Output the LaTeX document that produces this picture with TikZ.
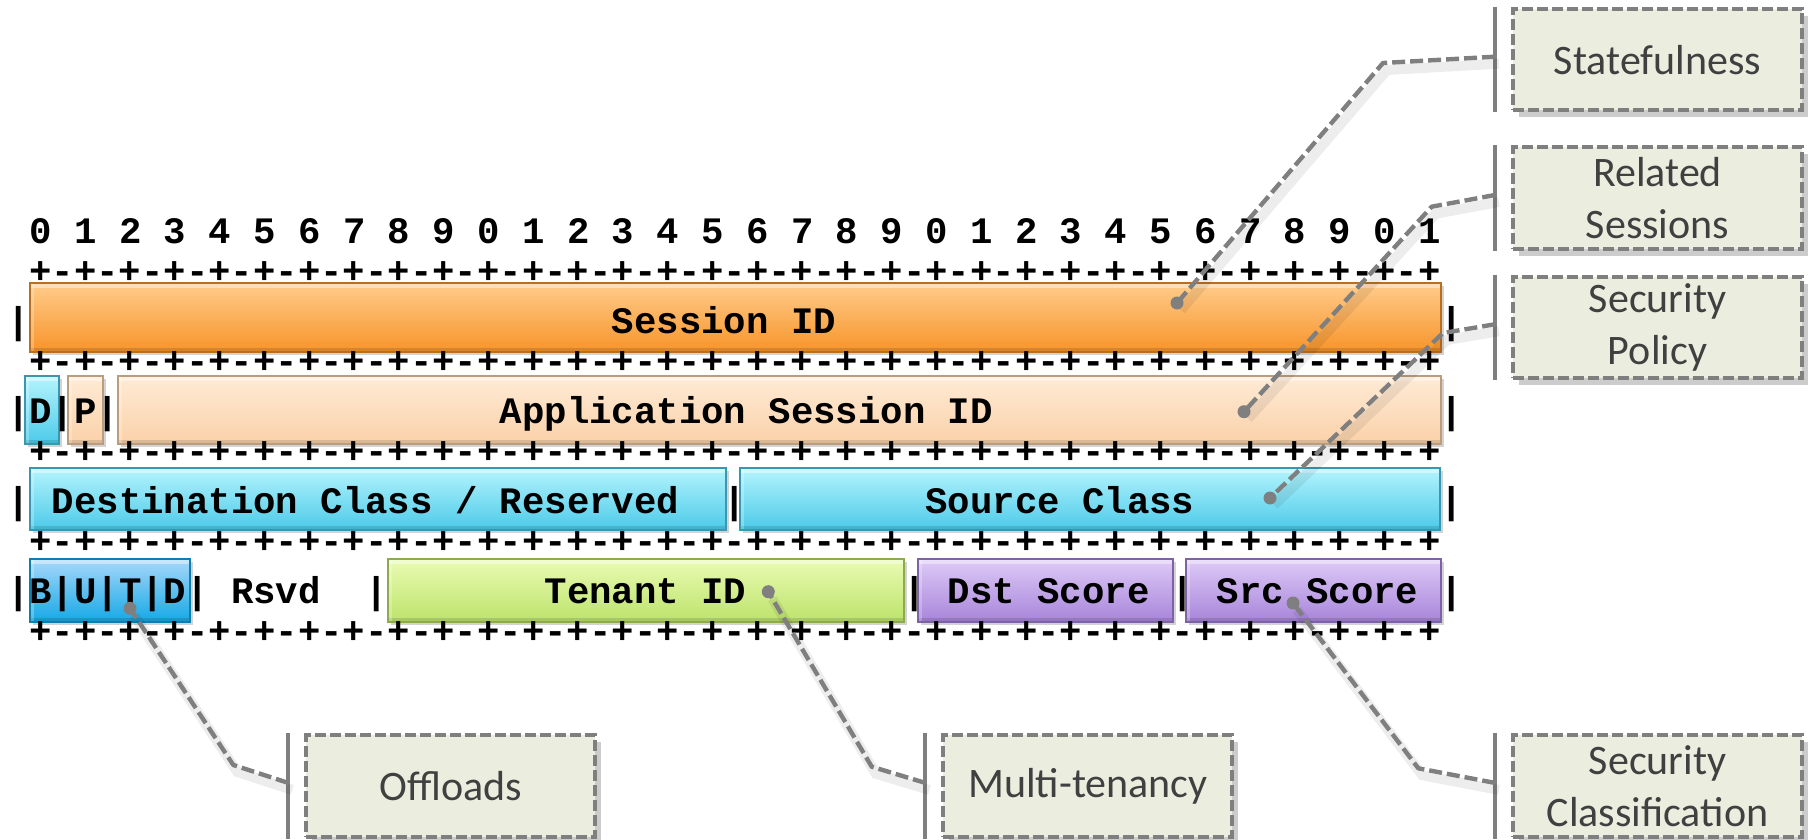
\documentclass[tikz,border=0pt]{standalone}
\usepackage{fontspec}
\usetikzlibrary{calc,shadows}

\newfontfamily\bitfont{Liberation Mono}
\newfontfamily\notefont{Carlito}

\definecolor{orgTop}{HTML}{FFCC8C}
\definecolor{orgBot}{HTML}{F7942A}
\definecolor{pchTop}{HTML}{FFEBD6}
\definecolor{pchBot}{HTML}{FAD1A8}
\definecolor{cyaTop}{HTML}{B4F4FD}
\definecolor{cyaBot}{HTML}{4CCAE9}
\definecolor{bluTop}{HTML}{A8D8FA}
\definecolor{bluBot}{HTML}{14A8E6}
\definecolor{limTop}{HTML}{EAFBB4}
\definecolor{limBot}{HTML}{BCE36A}
\definecolor{lavTop}{HTML}{DECBF7}
\definecolor{lavBot}{HTML}{A784DA}
\definecolor{callgray}{HTML}{7F7F7F}
\definecolor{notefill}{HTML}{EBEEDF}
\definecolor{notetext}{HTML}{404040}

\newcommand{\cx}[1]{18.3+22.4*(#1)}
\def\sepline{+-+-+-+-+-+-+-+-+-+-+-+-+-+-+-+-+-+-+-+-+-+-+-+-+-+-+-+-+-+-+-+}

\tikzset{
  bits/.style={font=\bitfont\bfseries\fontsize{18.67}{22}\selectfont, inner sep=0pt,
    text height=0.66em, text depth=0pt},
  field/.style 2 args={top color=#1, bottom color=#2, draw=#2!75!black, line width=0.6pt,
    drop shadow={opacity=0.35, shadow xshift=1.5pt, shadow yshift=-1.5pt},
    path picture={
      \fill[white, opacity=0.4] (path picture bounding box.north west) rectangle
        ([yshift=-2.5pt]path picture bounding box.north east);
      \fill[black, opacity=0.12] ([yshift=2pt]path picture bounding box.south west) rectangle
        (path picture bounding box.south east);
      \fill[white, opacity=0.25] (path picture bounding box.north west) rectangle
        ([xshift=2pt]path picture bounding box.south west);
    }},
  note/.style={draw=callgray, dash pattern=on 5.5pt off 2pt, line width=2pt, fill=notefill,
    text=notetext, font=\notefont\fontsize{21}{26}\selectfont, align=center,
    minimum width=144.5pt, minimum height=50.8pt, inner sep=0pt,
    drop shadow={opacity=0.4, shadow xshift=3pt, shadow yshift=-3.5pt}},
  lead/.style={draw=callgray, line width=2.2pt, dash pattern=on 6.5pt off 2.5pt, line join=round,
    preaction={draw=black, opacity=0.07, line width=5pt, solid,
      transform canvas={shift={(2pt,-3.5pt)}}}},
  dot/.style={circle, fill=callgray, inner sep=0pt, minimum size=6.5pt},
  post/.style={draw=callgray, line width=2pt}
}

\begin{document}
\begin{tikzpicture}[x=0.5pt, y=-0.5pt]
	\useasboundingbox (0,0) rectangle (1820,840);

	% coloured fields
	\path[field={orgTop}{orgBot}] (30,283) rectangle (1441,352);
	\path[field={cyaTop}{cyaBot}] (25,376) rectangle (59,444);
	\path[field={pchTop}{pchBot}] (68,376) rectangle (103,444);
	\path[field={pchTop}{pchBot}] (118,376) rectangle (1441,444);
	\path[field={cyaTop}{cyaBot}] (30,468) rectangle (726,530);
	\path[field={cyaTop}{cyaBot}] (740,468) rectangle (1440,530);
	\path[field={bluTop}{bluBot}] (30,559) rectangle (190,622);
	\path[field={limTop}{limBot}] (388,559) rectangle (904,622);
	\path[field={lavTop}{lavBot}] (918,559) rectangle (1173,622);
	\path[field={lavTop}{lavBot}] (1186,559) rectangle (1441,622);

	% bit numbers and separators
	\foreach \i in {0,...,31}{
		\pgfmathtruncatemacro\d{mod(\i,10)}
		\node[bits] (bit\i) at ({\cx{2*\i+1}},236.5) {\d};
	}
	\foreach \y [count=\k] in {276.7,366.7,456.7,546.7,636.7}
		\node[bits] (sep\k) at ({\cx{32}},\y) {\sepline};

	% row 1
	\node[bits] (r1l) at ({\cx{0}},326.5) {|};
	\node[bits] (sid) at ({\cx{31.5}},326.5) {Session ID};
	\node[bits] (r1r) at ({\cx{64}},326.5) {|};
	% row 2
	\node[bits] (flags) at ({\cx{2}},416.5) {|D|P|};
	\node[bits] (asid) at ({\cx{32.5}},416.5) {Application Session ID};
	\node[bits] (r2r) at ({\cx{64}},416.5) {|};
	% row 3
	\node[bits] (r3l) at ({\cx{0}},506.5) {|};
	\node[bits] (dclass) at ({\cx{15.5}},506.5) {Destination Class / Reserved};
	\node[bits] (r3m) at ({\cx{32}},506.5) {|};
	\node[bits] (sclass) at ({\cx{46.5}},506.5) {Source Class};
	\node[bits] (r3r) at ({\cx{64}},506.5) {|};
	% row 4
	\node[bits] (butd) at ({\cx{4}},596.5) {|B|U|T|D|};
	\node[bits] (rsvd) at ({\cx{11.5}},596.5) {Rsvd};
	\node[bits] (r4a) at ({\cx{16}},596.5) {|};
	\node[bits] (tid) at ({\cx{28}},596.5) {Tenant ID};
	\node[bits] (r4b) at ({\cx{40}},596.5) {|};
	\node[bits] (dscore) at ({\cx{46}},596.5) {Dst Score};
	\node[bits] (r4c) at ({\cx{52}},596.5) {|};
	\node[bits] (sscore) at ({\cx{58}},596.5) {Src Score};
	\node[bits] (r4r) at ({\cx{64}},596.5) {|};

	% callouts
	\node[note] (state) at (1657.5,59.7) {Statefulness};
	\node[note] (related) at (1657.5,198) {Related\\Sessions};
	\node[note] (policy) at (1657.5,327.3) {Security\\Policy};
	\node[note] (offload) at (450.8,785.9) {Offloads};
	\node[note] (tenancy) at (1087.9,785.9) {Multi-tenancy};
	\node[note] (classif) at (1657.5,785.9) {Security\\Classification};

	\foreach \n in {state,related,policy,offload,tenancy,classif}{
		\draw[post] ($(\n.north west)+(-16,0)$) -- ($(\n.south west)+(-16,0)$);
		\coordinate (\n-post) at ($(\n.west)+(-16,-3)$);
	}

	\coordinate (p-state) at (1177,303);
	\coordinate (p-related) at (1244,411.7);
	\coordinate (p-policy) at (1270,498);
	\coordinate (p-offload) at (130,608.3);
	\coordinate (p-tenancy) at (768.3,591.7);
	\coordinate (p-classif) at (1293,603);

	\draw[lead] (state-post) -- (1383,63) -- (p-state);
	\draw[lead] (related-post) -- (1431.7,206.7) -- (p-related);
	\draw[lead] (policy-post) -- (1443,333) -- (p-policy);
	\draw[lead] (offload-post) -- (233.3,765) -- (p-offload);
	\draw[lead] (tenancy-post) -- (871.7,766.7) -- (p-tenancy);
	\draw[lead] (classif-post) -- (1418.3,768.3) -- (p-classif);

	\foreach \n in {state,related,policy,offload,tenancy,classif}
		\node[dot] (d-\n) at (p-\n) {};

\end{tikzpicture}
\end{document}
